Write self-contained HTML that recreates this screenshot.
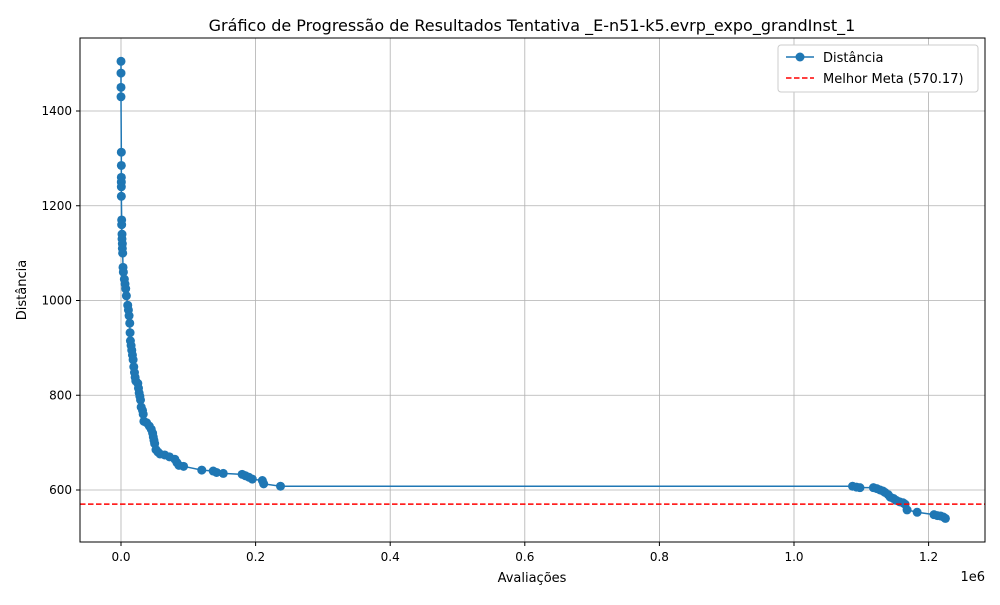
<!DOCTYPE html>
<html><head><meta charset="utf-8"><style>
body{margin:0;background:#fff;font-family:"Liberation Sans","DejaVu Sans",sans-serif}
svg text{font-family:"DejaVu Sans","Liberation Sans",sans-serif;fill:#000}
</style></head><body>
<svg id="chart" width="1000" height="600">
<rect x="0" y="0" width="1000" height="600" fill="#fff"/>
<text x="532" y="31" font-size="16" text-anchor="middle">Gráfico de Progressão de Resultados Tentativa _E-n51-k5.evrp_expo_grandInst_1</text>
<g id="grid"></g><g id="ticks"></g>
<g id="series"></g>
<rect x="80" y="38" width="905" height="504" fill="none" stroke="#000" stroke-width="1"/>
<text x="532" y="582" font-size="13" text-anchor="middle">Avaliações</text>
<text x="26" y="290" font-size="13" text-anchor="middle" transform="rotate(-90 26 290)">Distância</text>
<text x="985" y="581" font-size="13" text-anchor="end">1e6</text>
<g>
<rect x="778" y="45" width="200" height="47" fill="#fff" stroke="#ccc" rx="3"/>
<g>
<line x1="786" y1="57" x2="814" y2="57" stroke="#1f77b4" stroke-width="1.5"/>
<circle cx="800" cy="57" r="4.5" fill="#1f77b4"/>
<text x="823" y="62" font-size="13">Distância</text></g>
<g>
<line x1="786" y1="78" x2="814" y2="78" stroke="red" stroke-width="1.5" stroke-dasharray="5.5,2.5"/>
<text x="823" y="83" font-size="13">Melhor Meta (570.17)</text></g>
</g>
</svg>
<script>
const xTicks=[0,0.2,0.4,0.6,0.8,1.0,1.2];
const yTicks=[600,800,1000,1200,1400];
const bestMeta=570.17;
const evals=[0,0,0,0,500,500,500,500,500,500,1000,1000,1500,1500,2000,2000,2500,3000,3500,5000,6000,7000,8000,10000,11000,12000,13000,13500,14000,15000,16000,17000,18000,19000,20000,21000,22000,25000,26000,27000,28000,29000,30000,32000,33000,34000,38000,42000,45000,47000,48000,49000,50000,52000,55000,58000,65000,72000,80000,83000,86000,93000,120000,137000,142000,152000,180000,185000,190000,195000,210000,212000,237000,1087000,1093000,1098000,1118000,1123000,1128000,1132000,1135000,1140000,1143000,1148000,1152000,1157000,1162000,1165000,1168000,1183000,1208000,1213000,1218000,1222000,1225000];
const dist=[1505,1480,1450,1430,1313,1285,1260,1250,1240,1220,1170,1160,1140,1130,1120,1110,1100,1070,1060,1045,1035,1025,1010,990,980,968,952,932,915,905,895,885,875,860,848,838,830,825,815,805,798,790,775,768,760,745,742,735,728,720,712,705,698,685,680,676,674,670,665,658,652,650,642,640,637,635,633,630,627,623,620,613,608,608,606,605,605,603,600,598,595,590,585,582,578,575,573,570,558,553,548,546,545,543,540];
const NS='http://www.w3.org/2000/svg';
const X=v=>121+v/1e6*673;
const Y=d=>490-(d-600)*0.47375;
function mk(tag,attrs,parent){const e=document.createElementNS(NS,tag);for(const k in attrs)e.setAttribute(k,attrs[k]);parent.appendChild(e);return e;}
const grid=document.getElementById('grid'),ticks=document.getElementById('ticks'),ser=document.getElementById('series');
xTicks.forEach(t=>{const x=X(t*1e6);
const g=mk('line',{x1:x,x2:x,y1:38,y2:542,stroke:'#b0b0b0','stroke-width':0.8},grid);


mk('line',{x1:x,x2:x,y1:542,y2:546,stroke:'#000'},ticks);
const tx=mk('text',{x:x,y:561,'font-size':12,'text-anchor':'middle'},ticks);tx.textContent=t.toFixed(1);

});
yTicks.forEach(t=>{const y=Y(t);
const g=mk('line',{x1:80,x2:985,y1:y,y2:y,stroke:'#b0b0b0','stroke-width':0.8},grid);


mk('line',{x1:76,x2:80,y1:y,y2:y,stroke:'#000'},ticks);
const tx=mk('text',{x:72,y:y+4,'font-size':12,'text-anchor':'end'},ticks);tx.textContent=t;

});
const pts=evals.map((e,i)=>X(e)+','+Y(dist[i])).join(' ');
const pl=mk('polyline',{points:pts,fill:'none',stroke:'#1f77b4','stroke-width':1.5},ser);


evals.forEach((e,i)=>{const c=mk('circle',{cx:X(e),cy:Y(dist[i]),r:4.5,fill:'#1f77b4'},ser);

});
const bl=mk('line',{x1:80,x2:985,y1:Y(bestMeta),y2:Y(bestMeta),stroke:'red','stroke-width':1.5,'stroke-dasharray':'5.5,2.5'},ser);


</script>
</body></html>
